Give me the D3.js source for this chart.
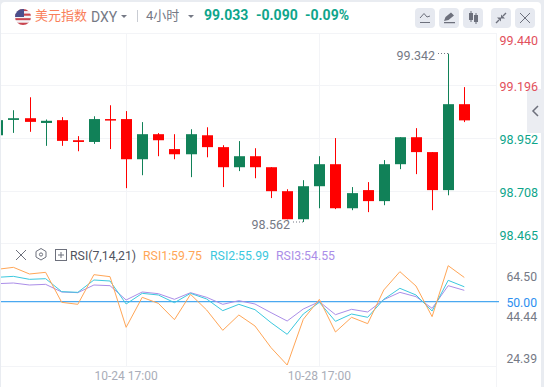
<!DOCTYPE html>
<html>
<head>
<meta charset="utf-8">
<script src="https://cdn.jsdelivr.net/npm/d3@7"></script>
<style>
  html, body { margin: 0; padding: 0; background: #e9ecf1; }
  svg { display: block; }
  text { font-family: Roboto, "Noto Sans CJK SC", sans-serif; }
</style>
</head>
<body>
<div id="viz"></div>
<script>
const COLORS = {
  up: "#118158",
  down: "#ff0000",
  grid: "#f3f4f7",
  rsi1: "#ffa657",
  rsi2: "#3cc8de",
  rsi3: "#ab8ee8",
  mid: "#4aa8f0",
  teal: "#0ea58b",
  axisRed: "#e2505c",
  gray: "#757985"
};

// candles (red closes lower, green closes higher)
const opens = [98.964, 99.035, 99.043, 99.021, 99.034, 98.941, 98.933, 99.039, 99.039, 98.853,
  98.969, 98.900, 98.876, 98.964, 98.909, 98.816, 98.867, 98.816, 98.705, 98.575,
  98.728, 98.830, 98.626, 98.710, 98.659, 98.830, 98.955, 98.886, 98.710, 99.108];
const closes = [99.034, 99.043, 99.026, 99.031, 98.938, 98.933, 99.039, 99.034, 98.853, 98.969,
  98.941, 98.876, 98.969, 98.909, 98.816, 98.867, 98.816, 98.705, 98.575, 98.728,
  98.830, 98.626, 98.696, 98.659, 98.830, 98.955, 98.886, 98.710, 99.108, 99.033];
const highs = [99.048, 99.080, 99.140, 99.037, 99.048, 98.960, 99.052, 99.103, 99.076, 99.025,
  98.974, 98.969, 98.992, 99.001, 98.918, 98.937, 98.904, 98.816, 98.714, 98.756,
  98.867, 98.951, 98.724, 98.747, 98.849, 98.955, 98.997, 98.886, 99.342, 99.187];
const lows = [98.964, 98.975, 98.980, 98.915, 98.915, 98.890, 98.924, 98.900, 98.719, 98.779,
  98.867, 98.853, 98.770, 98.862, 98.724, 98.798, 98.765, 98.673, 98.575, 98.562,
  98.626, 98.622, 98.617, 98.608, 98.640, 98.807, 98.784, 98.617, 98.686, 99.025];

const rsi1 = [63.03, 63.84, 61.15, 61.82, 49.70, 48.90, 60.88, 60.07, 39.61, 51.72,
  49.30, 42.70, 52.93, 46.61, 38.40, 44.59, 40.15, 31.39, 24.39, 42.84,
  50.92, 37.72, 43.65, 41.09, 54.68, 62.09, 56.30, 43.92, 64.50, 59.75];
const rsi2 = [59.80, 60.20, 58.99, 59.26, 54.01, 53.74, 58.72, 58.32, 49.03, 53.34,
  52.67, 49.57, 53.34, 51.05, 46.34, 48.90, 46.74, 41.49, 36.78, 44.99,
  49.70, 42.03, 44.99, 43.65, 50.92, 55.36, 52.67, 46.20, 58.59, 55.99];
const rsi3 = [57.24, 57.51, 56.70, 56.97, 53.88, 53.61, 56.70, 56.43, 50.65, 53.88,
  53.20, 50.92, 53.61, 51.72, 48.90, 50.38, 49.03, 45.53, 42.16, 47.01,
  49.97, 44.72, 46.88, 45.80, 50.78, 53.74, 51.99, 47.28, 56.43, 54.55];

const priceTicks = ["99.440", "99.196", "98.952", "98.708", "98.465"];
const rsiTicks = ["64.50", "50.00", "44.44", "24.39"];
const timeTicks = [[8, "10-24 17:00"], [20, "10-28 17:00"]];

const width = 544;
const height = 387;
const plotRight = 496;

const svg = d3.select("#viz").append("svg")
  .attr("width", width)
  .attr("height", height);

// white card
svg.append("rect")
  .attr("x", 1).attr("y", 2)
  .attr("width", 540).attr("height", 393)
  .attr("rx", 4)
  .attr("fill", "#fff");

const x = d3.scaleLinear().domain([0, 29]).range([-2.7, 464.3]);
const y = d3.scaleLinear().domain([98.465, 99.440]).range([243, 32.5]);
const yRsi = d3.scaleLinear().domain([24.39, 64.5]).range([365, 265.7]);

// grid
const grid = svg.append("g").attr("stroke", COLORS.grid).attr("stroke-width", 1);
priceTicks.forEach(t => {
  const py = Math.round(y(+t)) + 0.5;
  grid.append("line").attr("x1", 1).attr("x2", plotRight).attr("y1", py).attr("y2", py);
});
grid.append("line").attr("x1", 1).attr("x2", plotRight).attr("y1", 366.5).attr("y2", 366.5);
timeTicks.forEach(t => {
  const px = Math.round(x(t[0])) + 0.5;
  grid.append("line").attr("x1", px).attr("x2", px).attr("y1", 33).attr("y2", 367);
});
grid.append("line").attr("x1", plotRight + 0.5).attr("x2", plotRight + 0.5).attr("y1", 33).attr("y2", 387);

// candles, clipped to the card
svg.append("clipPath").attr("id", "plotClip").append("rect")
  .attr("x", 1).attr("y", 33).attr("width", plotRight).attr("height", 334);
const candles = svg.append("g").attr("clip-path", "url(#plotClip)");
opens.forEach((o, i) => {
  const c = closes[i];
  const color = c >= o ? COLORS.up : COLORS.down;
  const cx = Math.round(x(i));
  candles.append("line")
    .attr("x1", cx + 0.5).attr("x2", cx + 0.5)
    .attr("y1", y(highs[i])).attr("y2", y(lows[i]))
    .attr("stroke", color).attr("stroke-width", 1);
  const top = y(Math.max(o, c));
  const h = Math.max(1.5, Math.abs(y(o) - y(c)));
  candles.append("rect")
    .attr("x", cx - 5).attr("y", top)
    .attr("width", 11).attr("height", h)
    .attr("fill", color);
});

// high / low markers
svg.append("text").attr("x", 435).attr("y", 59.5)
  .attr("text-anchor", "end").attr("font-size", 12.5).attr("fill", COLORS.gray)
  .text("99.342");
svg.append("line").attr("x1", 438).attr("x2", 448).attr("y1", 53.5).attr("y2", 53.5)
  .attr("stroke", COLORS.gray).attr("stroke-dasharray", "1 2");
svg.append("text").attr("x", 290).attr("y", 229)
  .attr("text-anchor", "end").attr("font-size", 12.5).attr("fill", COLORS.gray)
  .text("98.562");
svg.append("line").attr("x1", 293).attr("x2", 303).attr("y1", 222).attr("y2", 222)
  .attr("stroke", COLORS.gray).attr("stroke-dasharray", "1 2");

const ic = "#6d707c";

// collapse tab sits under the axis labels
svg.append("rect").attr("x", 527).attr("y", 89).attr("width", 17).attr("height", 44).attr("fill", "#ebedf2");
svg.append("path").attr("d", "M538 106l-5 5 5 5").attr("fill", "none").attr("stroke", ic).attr("stroke-width", 1.5);

// price axis labels (top and bottom are pulled inside the pane)
const priceNudge = [8, 1.5, 1.5, 1.5, -8];
priceTicks.forEach((t, i) => {
  svg.append("text")
    .attr("x", 538).attr("y", y(+t) + priceNudge[i] + 4.5)
    .attr("text-anchor", "end").attr("font-size", 12.5)
    .attr("fill", i < 2 ? COLORS.axisRed : COLORS.teal)
    .text(t);
});

// rsi panel
svg.append("line")
  .attr("x1", 1).attr("x2", plotRight + 3)
  .attr("y1", yRsi(50)).attr("y2", yRsi(50))
  .attr("stroke", COLORS.mid).attr("stroke-width", 1.2);

const rsiLine = d3.line().x((d, i) => x(i)).y(d => yRsi(d));
[[rsi3, COLORS.rsi3], [rsi2, COLORS.rsi2], [rsi1, COLORS.rsi1]].forEach(s => {
  svg.append("path")
    .datum(s[0])
    .attr("fill", "none")
    .attr("stroke", s[1])
    .attr("stroke-width", 1)
    .attr("clip-path", "url(#plotClip)")
    .attr("d", rsiLine);
});

const rsiNudge = [11, 1, 1.5, -7];
rsiTicks.forEach((t, i) => {
  svg.append("text")
    .attr("x", 537).attr("y", yRsi(+t) + rsiNudge[i] + 4.5)
    .attr("text-anchor", "end").attr("font-size", 12.2)
    .attr("fill", t === "50.00" ? "#2b8ff0" : COLORS.gray)
    .text(t);
});

// time axis
timeTicks.forEach(t => {
  svg.append("text")
    .attr("x", x(t[0])).attr("y", 380)
    .attr("text-anchor", "middle").attr("font-size", 12)
    .attr("fill", "#a9adb8")
    .text(t[1]);
});

// header
const flag = svg.append("g").attr("transform", "translate(23,17)");
flag.append("clipPath").attr("id", "flagClip").append("circle").attr("r", 8);
const flagBody = flag.append("g").attr("clip-path", "url(#flagClip)");
d3.range(7).forEach(i => {
  flagBody.append("rect")
    .attr("x", -8).attr("y", -8 + i * 16 / 7)
    .attr("width", 16).attr("height", 16 / 7)
    .attr("fill", i % 2 ? "#f3f3f6" : "#c8454f");
});
flagBody.append("rect").attr("x", -8).attr("y", -8).attr("width", 9).attr("height", 8).attr("fill", "#4b4f8c");

svg.append("text").attr("x", 35).attr("y", 20).attr("font-size", 13).attr("fill", "#f9805a").text("美元指数");
svg.append("text").attr("x", 91).attr("y", 22).attr("font-size", 14).attr("fill", COLORS.gray).text("DXY");
svg.append("path").attr("d", "M121 15h6l-3 3z").attr("fill", COLORS.gray);
svg.append("line").attr("x1", 137.5).attr("x2", 137.5).attr("y1", 10).attr("y2", 22).attr("stroke", "#c9ccd3");
svg.append("text").attr("x", 146).attr("y", 20).attr("font-size", 13).attr("fill", COLORS.gray).text("4小时");
svg.append("path").attr("d", "M188 15h6l-3 3z").attr("fill", COLORS.gray);
[[204, "99.033"], [256, "-0.090"], [305, "-0.09%"]].forEach(d => {
  svg.append("text").attr("x", d[0]).attr("y", 20)
    .attr("font-size", 14).attr("font-weight", 700).attr("fill", COLORS.teal)
    .text(d[1]);
});

// toolbar buttons
const buttons = [415, 439, 463, 491, 515];
buttons.forEach(bx => {
  svg.append("rect").attr("x", bx).attr("y", 8).attr("width", 20).attr("height", 20)
    .attr("rx", 4).attr("fill", "#e6e9f0");
});
svg.append("path").attr("d", "M420 22.5h10M420 18l4-4.5 3 3.5 3-1").attr("fill", "none").attr("stroke", ic);
svg.append("path").attr("d", "M444 22h11v1.2h-11zM444 21l1.5-4 5.5-4.5 3 3-5.5 4.5z").attr("fill", ic);
svg.append("path").attr("d", "M469 13h4v7h-4zM474 15h4v7h-4z").attr("fill", ic);
svg.append("path").attr("d", "M471 11v11M476 13v11").attr("stroke", ic);
svg.append("path").attr("d", "M496 23l3-3M506 13l-3 3").attr("stroke", ic).attr("stroke-width", 1.4);
svg.append("path").attr("d", "M497 17.5l4 0 0 4zM505 18.5l-4 0 0-4z").attr("fill", ic);
svg.append("path").attr("d", "M520 13l10 10M530 13l-10 10").attr("stroke", ic).attr("stroke-width", 1);

// rsi legend
const rsiHeader = svg.append("g");
rsiHeader.append("path").attr("d", "M16 250l10 10M26 250l-10 10").attr("stroke", ic);
rsiHeader.append("path").attr("d", "M41 248.5l5 3v5.5l-5 3-5-3v-5.5z").attr("fill", "none").attr("stroke", ic);
rsiHeader.append("circle").attr("cx", 41).attr("cy", 254.5).attr("r", 1.6).attr("fill", "none").attr("stroke", ic);
rsiHeader.append("rect").attr("x", 55.5).attr("y", 249.5).attr("width", 11).attr("height", 11).attr("fill", "none").attr("stroke", ic);
rsiHeader.append("path").attr("d", "M58 255h6M61 252v6").attr("stroke", ic);
[[70, "RSI(7,14,21)", "#50535e"], [143, "RSI1:59.75", COLORS.rsi1], [210, "RSI2:55.99", COLORS.rsi2], [276, "RSI3:54.55", COLORS.rsi3]].forEach(d => {
  rsiHeader.append("text").attr("x", d[0]).attr("y", 259.5)
    .attr("font-size", 12.3).attr("fill", d[2])
    .text(d[1]);
});
</script>
</body>
</html>
